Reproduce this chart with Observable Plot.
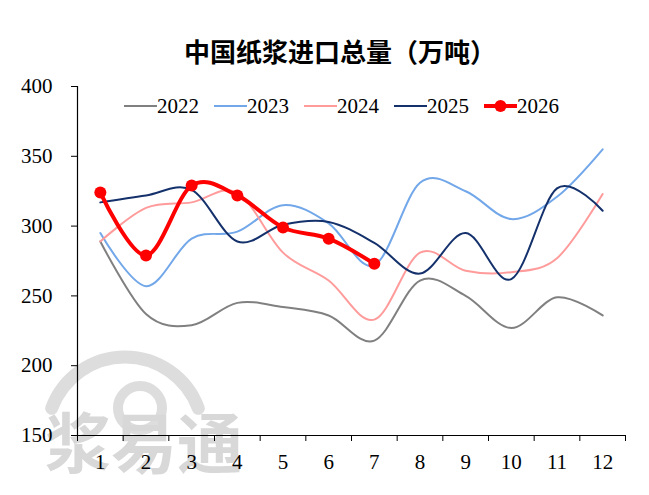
<!DOCTYPE html>
<html>
<head>
<meta charset="utf-8">
<script src="https://cdn.jsdelivr.net/npm/d3@7"></script>
<script src="https://cdn.jsdelivr.net/npm/@observablehq/plot@0.6"></script>
<style>
  body { margin: 0; background: #fff; }
  #wrap { position: relative; width: 649px; height: 495px; overflow: hidden; }
  #title { position: absolute; left: 184px; top: 36px; white-space: nowrap;
           font-family: "Noto Sans CJK SC", sans-serif; font-weight: bold; font-size: 26px; line-height: 30px; color: #000; }
  #wm { position: absolute; left: 0; top: 0; z-index: 0; }
  #chart { position: absolute; left: 0; top: 70px; z-index: 1; }
  #legend { position: absolute; left: 124px; top: 94px; z-index: 2; display: flex; align-items: center;
            font-family: "Liberation Serif", "DejaVu Serif", serif; font-size: 21px; line-height: 24px; }
  #legend .item { display: flex; align-items: center; margin-right: 15px; }
  #legend svg { display: block; }
  #chart svg text { font-family: "Liberation Serif", "DejaVu Serif", serif; }
</style>
</head>
<body>
<div id="wrap">
  <svg id="wm" width="649" height="495">
    <path d="M 51.7 408.3 A 78 78 0 0 1 198.3 408.3" fill="none" stroke="#dddddd" stroke-width="13" stroke-linecap="round"/>
    <circle cx="140" cy="408" r="22" fill="none" stroke="#dddddd" stroke-width="10"/>
    <text x="45" y="468" font-family="Noto Sans CJK SC" font-weight="bold" font-size="66" fill="#d8d8d8">浆易通</text>
  </svg>
  <div id="title">中国纸浆进口总量（万吨）</div>
  <div id="chart"></div>
  <div id="legend"></div>
</div>
<script>
const months = [1,2,3,4,5,6,7,8,9,10,11,12];
const years = ["2022","2023","2024","2025","2026"];
const s2022 = [289,237,229,245,242,236,218,261,250,227,249,236];
const s2023 = [295,257,291,296,315,302,272,331,325,305,321,355];
const s2024 = [289,313,317,324,281,261,233,281,268,267,277,323];
const s2025 = [317,322,326,289,301,303,288,266,295,262,327,311];
const s2026 = [324,279,329,322,299,291,273];
const colors = ["#808080","#72a7e9","#ff9b9b","#14316c","#ff0000"];
const yTicks = [150,200,250,300,350,400];

const series = [s2022, s2023, s2024, s2025, s2026];
const rows = [];
series.forEach((s, i) => s.forEach((v, j) => rows.push({year: years[i], month: months[j], value: v})));

const tickBounds = d3.range(months.length + 1).map(i => months[0] - 0.5 + i);
const fontFam = '"Liberation Serif", "DejaVu Serif", serif';

const marks = [
  Plot.axisY({ticks: yTicks, tickSize: 6, tickPadding: 19, fontSize: 21, fontFamily: fontFam, label: null}),
  Plot.axisX({ticks: months, tickSize: 0, tickPadding: 19, fontSize: 21, fontFamily: fontFam, label: null}),
  Plot.axisX({ticks: tickBounds, tickSize: 6, tickFormat: () => "", label: null}),
  Plot.ruleY([150], {stroke: "#000", strokeWidth: 1.2}),
  Plot.ruleX([tickBounds[0]], {stroke: "#000", strokeWidth: 1.2})
];
years.forEach((y, i) => {
  const data = rows.filter(r => r.year === y);
  marks.push(Plot.line(data, {x: "month", y: "value", stroke: colors[i], strokeWidth: y === "2026" ? 4 : 2, curve: "cardinal"}));
});
marks.push(Plot.dot(rows.filter(r => r.year === "2026"), {x: "month", y: "value", r: 6, fill: colors[4], stroke: "none"}));

const chart = Plot.plot({
  width: 649,
  height: 425,
  marginTop: 16,
  marginBottom: 60,
  marginLeft: 77,
  marginRight: 24,
  style: {fontFamily: fontFam, fontSize: "21px", color: "#000", background: "transparent", overflow: "visible"},
  x: {type: "linear", domain: [tickBounds[0], tickBounds[tickBounds.length - 1]], axis: null},
  y: {domain: [150, 400], axis: null},
  marks
});
document.getElementById("chart").appendChild(chart);

const legend = document.getElementById("legend");
years.forEach((y, i) => {
  const item = document.createElement("div");
  item.className = "item";
  const isLast = y === "2026";
  item.innerHTML = `<svg width="33" height="14"><line x1="0" y1="7" x2="33" y2="7" stroke="${colors[i]}" stroke-width="${isLast ? 4 : 2}"/>` +
    (isLast ? `<circle cx="16.5" cy="7" r="6" fill="${colors[i]}"/>` : "") + `</svg><span>${y}</span>`;
  legend.appendChild(item);
});
</script>
</body>
</html>
